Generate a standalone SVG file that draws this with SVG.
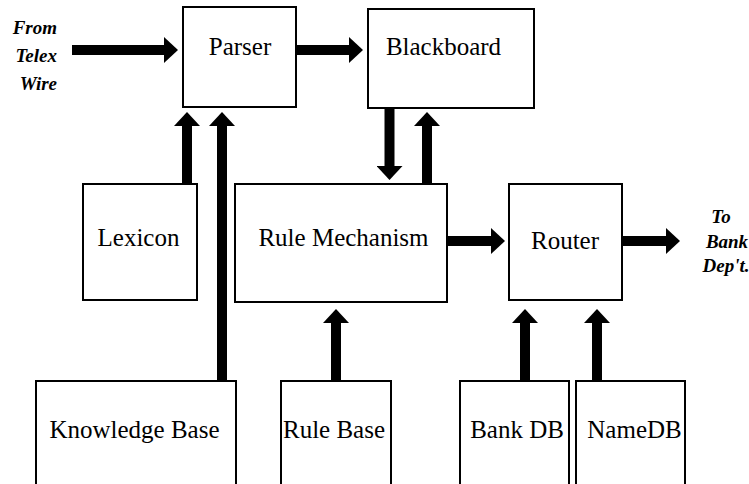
<svg xmlns="http://www.w3.org/2000/svg" width="749" height="484" viewBox="0 0 749 484">
  <style>
    .box { fill: #fff; stroke: #000; stroke-width: 2; }
    .label { font-family: "Times New Roman", Times, "Liberation Serif", "Noto Serif", "DejaVu Serif", FreeSerif, serif; font-size: 25px; fill: #000; text-anchor: middle; }
    .io { font-family: "Times New Roman", Times, "Liberation Serif", "Noto Serif", "DejaVu Serif", FreeSerif, serif; font-size: 19px; font-weight: bold; font-style: italic; fill: #000; }
    .flow { stroke: #000; stroke-width: 10; fill: none; marker-end: url(#head); }
  </style>
  <defs>
    <marker id="head" markerUnits="userSpaceOnUse" viewBox="0 0 14 26" markerWidth="14" markerHeight="26" refX="1" refY="13" orient="auto">
      <path d="M0,0 L14,13 L0,26 Z" fill="#000"/>
    </marker>
  </defs>
  <rect width="749" height="484" fill="#fff"/>

  <!-- data flow arrows -->
  <g id="connectors">
    <line class="flow" x1="72" y1="50" x2="165" y2="50"/>
    <line class="flow" x1="297" y1="50" x2="350" y2="50"/>
    <line class="flow" x1="448" y1="241" x2="492" y2="241"/>
    <line class="flow" x1="623" y1="241" x2="667" y2="241"/>
    <line class="flow" x1="187" y1="183" x2="187" y2="125"/>
    <line class="flow" x1="222" y1="380" x2="222" y2="125"/>
    <line class="flow" x1="389.5" y1="109" x2="389.5" y2="167"/>
    <line class="flow" x1="427" y1="183" x2="427" y2="125"/>
    <line class="flow" x1="336" y1="380" x2="336" y2="322"/>
    <line class="flow" x1="525" y1="380" x2="525" y2="322"/>
    <line class="flow" x1="597" y1="380" x2="597" y2="322"/>
  </g>

  <g id="source">
    <text class="io" x="57" y="34" text-anchor="end">From</text>
    <text class="io" x="57" y="62" text-anchor="end">Telex</text>
    <text class="io" x="57" y="90" text-anchor="end">Wire</text>
  </g>

  <g id="parser">
    <rect class="box" x="183" y="7" width="113" height="100"/>
    <text class="label" x="240" y="55">Parser</text>
  </g>

  <g id="blackboard">
    <rect class="box" x="368" y="9" width="166" height="99"/>
    <text class="label" x="443.5" y="55">Blackboard</text>
  </g>

  <g id="lexicon">
    <rect class="box" x="83" y="184" width="114" height="116"/>
    <text class="label" x="138.5" y="246">Lexicon</text>
  </g>

  <g id="rule-mechanism">
    <rect class="box" x="235" y="184" width="212" height="118"/>
    <text class="label" x="343.5" y="246">Rule Mechanism</text>
  </g>

  <g id="router">
    <rect class="box" x="509" y="184" width="113" height="116"/>
    <text class="label" x="565" y="249">Router</text>
  </g>

  <g id="destination">
    <text class="io" x="721" y="223" text-anchor="middle">To</text>
    <text class="io" x="727" y="248" text-anchor="middle">Bank</text>
    <text class="io" x="726" y="272" text-anchor="middle">Dep't.</text>
  </g>

  <g id="knowledge-base">
    <rect class="box" x="36" y="381" width="200" height="120"/>
    <text class="label" x="134.5" y="438">Knowledge Base</text>
  </g>

  <g id="rule-base">
    <rect class="box" x="281" y="381" width="110" height="120"/>
    <text class="label" x="334" y="438">Rule Base</text>
  </g>

  <g id="bank-db">
    <rect class="box" x="460" y="381" width="109" height="120"/>
    <text class="label" x="517" y="438">Bank DB</text>
  </g>

  <g id="name-db">
    <rect class="box" x="576" y="381" width="109" height="120"/>
    <text class="label" x="634.5" y="438">NameDB</text>
  </g>
</svg>
